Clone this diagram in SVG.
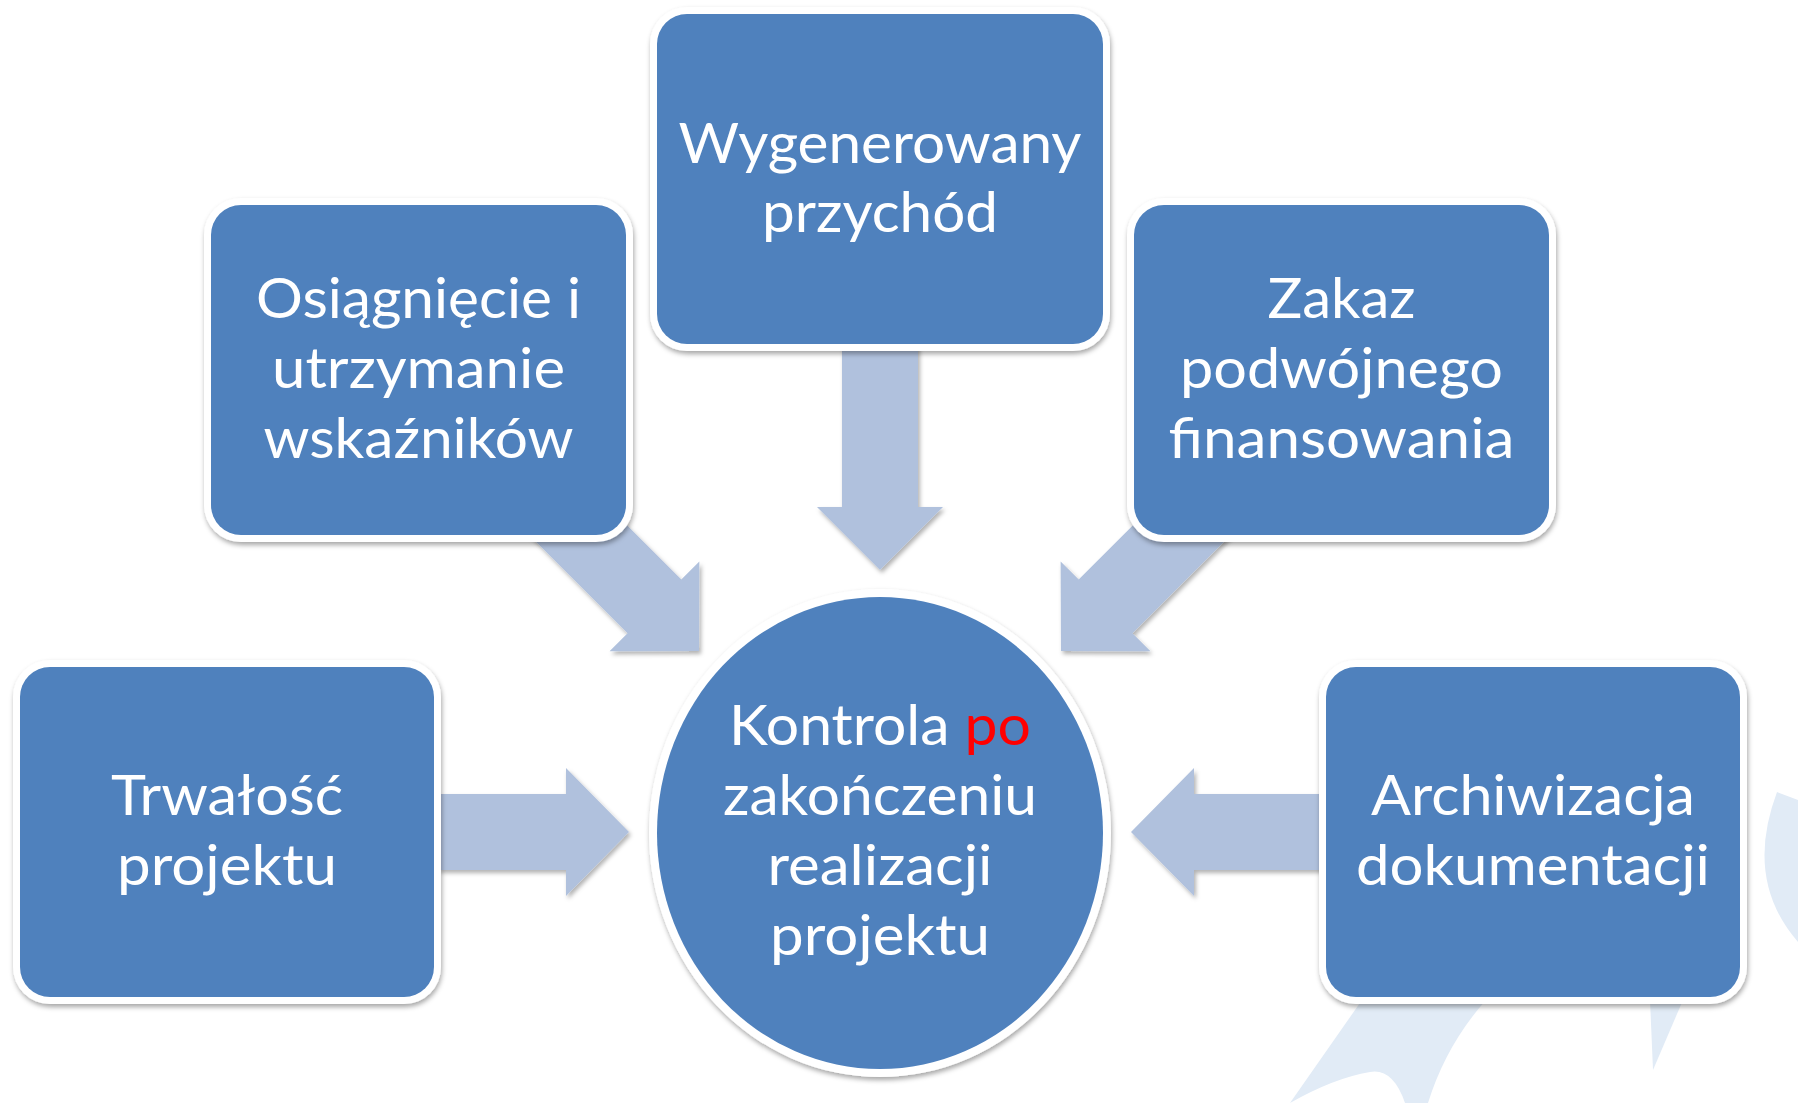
<svg xmlns="http://www.w3.org/2000/svg" width="1798" height="1103" viewBox="0 0 1798 1103">
<style>
.frame{fill:#FFFFFF;}
.box{fill:#4F81BD;}
.arrow{fill:#B0C1DD;}
.wm{fill:#E1EBF6;}
.lbl{font-family:Lato,"Open Sans","Liberation Sans",sans-serif;font-size:57px;fill:#FFFFFF;text-anchor:middle;}
.red{fill:#FF0000;}
</style>
<defs>
<filter id="sh" x="-10%" y="-10%" width="120%" height="120%">
<feDropShadow dx="1" dy="3" stdDeviation="2.5" flood-color="#000000" flood-opacity="0.35"/>
</filter>
<filter id="ash" x="-10%" y="-10%" width="120%" height="120%">
<feDropShadow dx="2" dy="3" stdDeviation="2" flood-color="#000000" flood-opacity="0.3"/>
</filter>
</defs>
<rect width="1798" height="1103" fill="#FFFFFF"/>
<g id="watermark">
<path class="wm" d="M1290,1103 L1362,1000 L1486,1000 Q1446,1045 1428,1103 L1405,1103 Q1393,1068 1370,1072 Q1334,1078 1290,1103 Z"/>
<path class="wm" d="M1650,1000 L1683,1000 L1653,1070 Z"/>
<path class="wm" d="M1777,792 L1798,800 L1798,942 Q1744,880 1777,792 Z"/>
</g>
<g id="connectors" filter="url(#ash)">
<polygon class="arrow" points="842,340 842,507 817,507 880,570 943,507 918,507 918,340"/>
<polygon class="arrow" points="438,794 566,794 566,768 629,832 566,896 566,870 438,870"/>
<polygon class="arrow" points="1322,794 1194,794 1194,768 1131,832 1194,896 1194,870 1322,870"/>
<g transform="translate(699,651) rotate(45)"><polygon class="arrow" points="-210,-38 -63,-38 -63,-63.5 0,0 -63,63.5 -63,38 -210,38"/></g>
<g transform="translate(1061,651) rotate(135)"><polygon class="arrow" points="-210,-38 -63,-38 -63,-63.5 0,0 -63,63.5 -63,38 -210,38"/></g>
</g>
<g id="node-przychod">
<rect class="frame" x="650" y="7" width="460" height="344" rx="37" filter="url(#sh)"/>
<rect class="box" x="657" y="14" width="446" height="330" rx="30"/>
<text class="lbl" x="880" y="163" textLength="403" lengthAdjust="spacingAndGlyphs">Wygenerowany</text>
<text class="lbl" x="880" y="232" textLength="236" lengthAdjust="spacingAndGlyphs">przychód</text>
</g>
<g id="node-wskazniki">
<rect class="frame" x="204" y="198" width="429" height="344" rx="37" filter="url(#sh)"/>
<rect class="box" x="211" y="205" width="415" height="330" rx="30"/>
<text class="lbl" x="418.5" y="318" textLength="325" lengthAdjust="spacingAndGlyphs">Osiągnięcie i</text>
<text class="lbl" x="418.5" y="388" textLength="293" lengthAdjust="spacingAndGlyphs">utrzymanie</text>
<text class="lbl" x="418.5" y="458" textLength="310" lengthAdjust="spacingAndGlyphs">wskaźników</text>
</g>
<g id="node-finansowanie">
<rect class="frame" x="1127" y="198" width="429" height="344" rx="37" filter="url(#sh)"/>
<rect class="box" x="1134" y="205" width="415" height="330" rx="30"/>
<text class="lbl" x="1341.5" y="318" textLength="148" lengthAdjust="spacingAndGlyphs">Zakaz</text>
<text class="lbl" x="1341.5" y="388" textLength="323" lengthAdjust="spacingAndGlyphs">podwójnego</text>
<text class="lbl" x="1341.5" y="458" textLength="346" lengthAdjust="spacingAndGlyphs">finansowania</text>
</g>
<g id="node-trwalosc">
<rect class="frame" x="13" y="660" width="428" height="344" rx="37" filter="url(#sh)"/>
<rect class="box" x="20" y="667" width="414" height="330" rx="30"/>
<text class="lbl" x="227" y="815" textLength="232" lengthAdjust="spacingAndGlyphs">Trwałość</text>
<text class="lbl" x="227" y="885" textLength="220" lengthAdjust="spacingAndGlyphs">projektu</text>
</g>
<g id="node-archiwizacja">
<rect class="frame" x="1319" y="660" width="428" height="344" rx="37" filter="url(#sh)"/>
<rect class="box" x="1326" y="667" width="414" height="330" rx="30"/>
<text class="lbl" x="1533" y="815" textLength="324" lengthAdjust="spacingAndGlyphs">Archiwizacja</text>
<text class="lbl" x="1533" y="885" textLength="354" lengthAdjust="spacingAndGlyphs">dokumentacji</text>
</g>
<g id="node-kontrola">
<ellipse class="frame" cx="880" cy="833" rx="231" ry="244" filter="url(#sh)"/>
<ellipse class="box" cx="880" cy="833" rx="223" ry="236"/>
<text class="lbl" x="880" y="745" textLength="302" lengthAdjust="spacingAndGlyphs">Kontrola <tspan class="red">po</tspan></text>
<text class="lbl" x="880" y="815" textLength="314" lengthAdjust="spacingAndGlyphs">zakończeniu</text>
<text class="lbl" x="880" y="885" textLength="225" lengthAdjust="spacingAndGlyphs">realizacji</text>
<text class="lbl" x="880" y="955" textLength="220" lengthAdjust="spacingAndGlyphs">projektu</text>
</g>
</svg>
